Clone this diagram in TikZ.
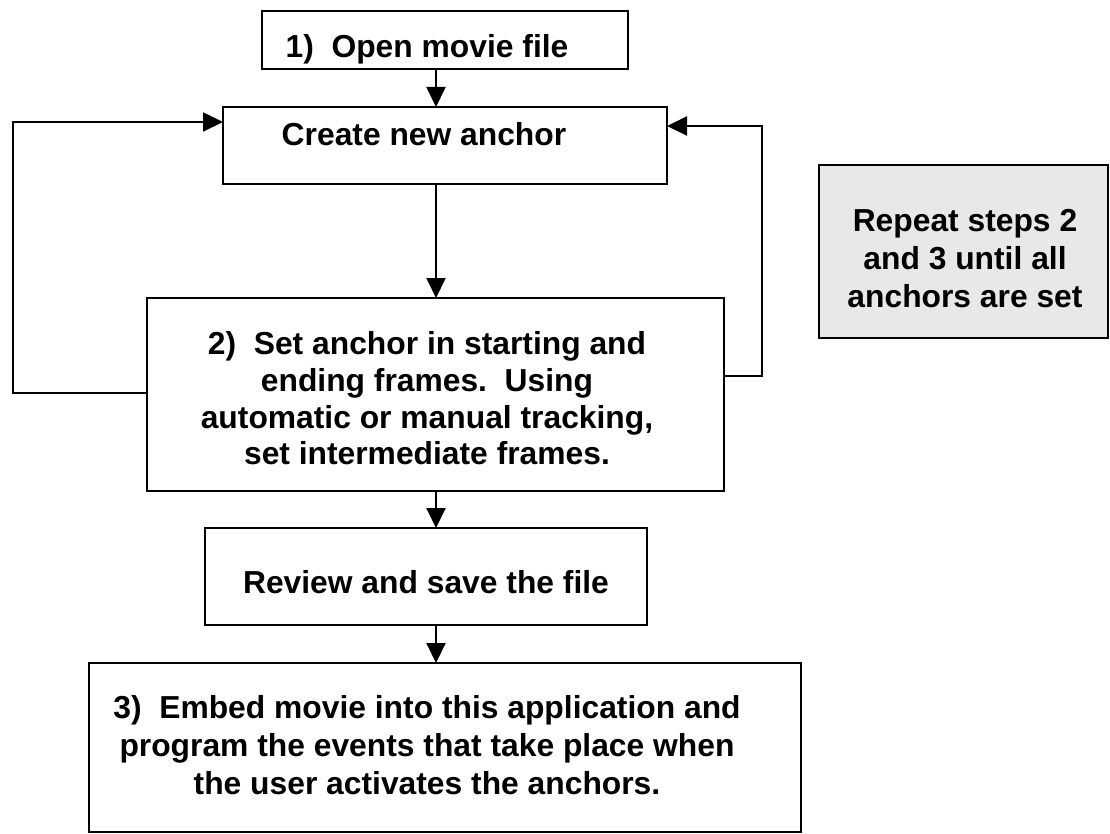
\documentclass[tikz,border=0pt]{standalone}
\usepackage{fontspec}
\setmainfont{Liberation Sans}
\usetikzlibrary{arrows.meta}
\definecolor{notegray}{RGB}{232,232,232}
\begin{document}
\begin{tikzpicture}[x=1pt,y=-1pt,
  box/.style={draw=black,line width=2pt,inner sep=0pt,outer sep=0pt,fill=white},
  note/.style={box,fill=notegray},
  lbl/.style={font=\bfseries\fontsize{31.8}{38}\selectfont,align=center,inner sep=0pt},
  flow/.style={line width=2pt,-{Triangle[length=20pt,width=19pt]}}]
\useasboundingbox (0,0) rectangle (1110,834);

% process boxes
\node[box,minimum width=366pt,minimum height=58pt]  (open)   at (445,40)    {};
\node[box,minimum width=444pt,minimum height=77pt]  (create) at (445,145.5) {};
\node[box,minimum width=577pt,minimum height=193pt] (set)    at (435.5,394.5) {};
\node[box,minimum width=442pt,minimum height=97pt]  (review) at (426,576.5) {};
\node[box,minimum width=712pt,minimum height=169pt] (embed)  at (445,747.5) {};
\node[note,minimum width=289pt,minimum height=173pt] (repeat) at (963.5,251.5) {};

% labels
\node[lbl,anchor=base] (topen) at (427,58) {1)\ \ Open movie file};
\node[lbl,anchor=base] (tcreate) at (424,146) {Create new anchor};
\node[lbl,font=\bfseries\fontsize{31.8}{36.7}\selectfont] (tset) at (427,398.5) {2)\ \ Set anchor in starting and\\ending frames.\ \ Using\\automatic or manual tracking,\\set intermediate frames.};
\node[lbl,anchor=base] (treview) at (426,593) {Review and save the file};
\node[lbl] (tembed) at (427,745) {3)\ \ Embed movie into this application and\\program the events that take place when\\the user activates the anchors.};
\node[lbl] (trepeat) at (965,258.5) {Repeat steps 2\\and 3 until all\\anchors are set};

% main flow
\draw[flow] ([xshift=-9pt]open.south) -- ([xshift=-9pt]create.north);
\draw[flow] ([xshift=-9pt]create.south) -- ([xshift=-9pt]create.south |- set.north);
\draw[flow] ([xshift=0.5pt]set.south) -- ([xshift=0.5pt]set.south |- review.north);
\draw[flow] ([xshift=0.5pt]set.south |- review.south) -- ([xshift=0.5pt]set.south |- embed.north);

% loops back to the anchor step
\draw[flow] ([yshift=1.5pt]set.west) -- ++(-134,0) |- ([yshift=23.5pt]create.west);
\draw[flow] ([yshift=18.5pt]set.east) -- ++(38,0) |- ([yshift=19.5pt]create.east);
\end{tikzpicture}
\end{document}
